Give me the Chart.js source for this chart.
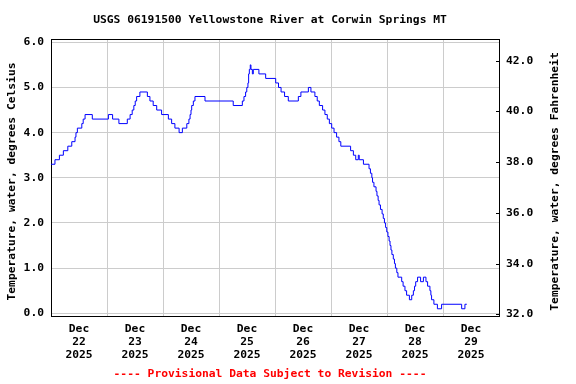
<!DOCTYPE html>
<html>
<head>
<meta charset="utf-8">
<script src="https://cdn.jsdelivr.net/npm/chart.js@4.4.1/dist/chart.umd.min.js"></script>
<style>
  body { margin: 0; background: #fff; }
  canvas { display: block; }
</style>
</head>
<body>
<canvas id="tempChart" width="576" height="384"></canvas>
<script>
// Texts
const titleText = 'USGS 06191500 Yellowstone River at Corwin Springs MT';
const footerText = '---- Provisional Data Subject to Revision ----';
const leftTitle = 'Temperature, water, degrees Celsius';
const rightTitle = 'Temperature, water, degrees Fahrenheit';

// Day labels (x axis, one per day starting Dec 22 2025)
const dayMonth = 'Dec';
const dayNumbers = ['22', '23', '24', '25', '26', '27', '28', '29'];
const dayYear = '2025';

// Hours since Dec 22 00:00 where the reading changes, and the reading (deg C)
const hours = [
    0, 1.7, 3.6, 5.3, 7.2, 8.9, 10.3, 10.7, 11.3, 13.2, 13.8, 14.6, 17.7,
    24.6, 26.4, 29.1, 32.7, 33.9, 34.8, 35.5, 36.1, 36.7, 38.1, 41.3, 42.4,
    43.8, 45.3, 47.4, 50.3, 51.7, 53.1, 54.9, 56.3, 58.2, 59.1, 59.6, 60.0,
    60.3, 61.0, 61.7, 66.0, 78.1, 82.0, 82.7, 83.4, 83.9, 84.4, 84.7, 85.0,
    85.4, 85.7, 86.3, 86.7, 89.1, 92.0, 96.3, 97.5, 98.6, 100.1, 101.7, 106.0,
    107.1, 110.3, 111.4, 113.1, 114.1, 115.0, 116.4, 117.4, 118.4, 119.3, 120.3,
    121.3, 122.4, 123.4, 124.2, 128.4, 129.6, 130.6, 131.7, 132.1, 133.9, 136.3,
    136.9, 137.5, 137.8, 138.4, 139.3, 139.7, 140.2, 140.6, 141.2, 141.9, 142.4,
    142.9, 143.4, 143.9, 144.4, 144.9, 145.3, 145.7, 146.1, 146.7, 147.2, 147.6,
    148.2, 148.7, 150.3, 150.9, 151.7, 152.4, 153.6, 154.6, 155.3, 155.8, 156.3,
    157.1, 158.4, 159.6, 160.7, 161.4, 162.4, 162.8, 163.1, 164.1, 165.6, 167.4,
    176.0, 177.4, 178.2
];
const tempC = [
    3.3, 3.4, 3.5, 3.6, 3.7, 3.8, 3.9, 4.0, 4.1, 4.2, 4.3, 4.4, 4.3,
    4.4, 4.3, 4.2, 4.3, 4.4, 4.5, 4.6, 4.7, 4.8, 4.9, 4.8, 4.7,
    4.6, 4.5, 4.4, 4.3, 4.2, 4.1, 4.0, 4.1, 4.2, 4.3, 4.4, 4.5,
    4.6, 4.7, 4.8, 4.7, 4.6, 4.7, 4.8, 4.9, 5.0, 5.1, 5.3, 5.4,
    5.5, 5.4, 5.3, 5.4, 5.3, 5.2, 5.1, 5.0, 4.9, 4.8, 4.7, 4.8,
    4.9, 5.0, 4.9, 4.8, 4.7, 4.6, 4.5, 4.4, 4.3, 4.2, 4.1,
    4.0, 3.9, 3.8, 3.7, 3.6, 3.5, 3.4, 3.5, 3.4, 3.3, 3.2,
    3.1, 3.0, 2.9, 2.8, 2.7, 2.6, 2.5, 2.4, 2.3, 2.2, 2.1,
    2.0, 1.9, 1.8, 1.7, 1.6, 1.5, 1.4, 1.3, 1.2, 1.1, 1.0,
    0.9, 0.8, 0.7, 0.6, 0.5, 0.4, 0.3, 0.4, 0.5, 0.6, 0.7,
    0.8, 0.7, 0.8, 0.7, 0.6, 0.5, 0.4, 0.3, 0.2, 0.1, 0.2,
    0.1, 0.2, 0.2
];

// Axis ranges
const xMin = 0, xMax = 192;
const cMin = -0.06, cMax = 6.073;
const fMin = 31.94, fMax = 42.85;

const FONT = '"DejaVu Sans Mono", "Liberation Mono", monospace';
const GRID = '#cccccc';

Chart.defaults.color = '#000';
Chart.defaults.font.family = FONT;
Chart.defaults.font.weight = 'bold';
Chart.defaults.font.size = 11.3;

// Frame, right-axis tick marks and all free text
const usgsDecor = {
    id: 'usgsDecor',
    beforeDatasetsDraw(chart) {
        const { ctx, chartArea: a } = chart;
        ctx.save();
        ctx.strokeStyle = '#000';
        ctx.lineWidth = 1;
        ctx.strokeRect(Math.round(a.left) + 0.5, Math.round(a.top) + 0.5,
            Math.round(a.right - a.left), Math.round(a.bottom - a.top));
        const y2 = chart.scales.y2;
        ctx.beginPath();
        y2.ticks.forEach(t => {
            const py = Math.round(y2.getPixelForValue(t.value)) + 0.5;
            ctx.moveTo(a.right - 3, py);
            ctx.lineTo(a.right + 1, py);
        });
        ctx.stroke();
        ctx.restore();
    },
    afterDraw(chart) {
        const { ctx } = chart;
        ctx.save();
        ctx.font = 'bold 11.3px ' + FONT;
        ctx.textAlign = 'center';
        ctx.textBaseline = 'middle';
        ctx.fillStyle = '#000';
        ctx.fillText(titleText, 270, 20);
        ctx.fillStyle = '#ff0000';
        ctx.fillText(footerText, 270, 374);
        ctx.fillStyle = '#000';
        ctx.save();
        ctx.translate(12, 181.5);
        ctx.rotate(-Math.PI / 2);
        ctx.fillText(leftTitle, 0, 0);
        ctx.restore();
        ctx.save();
        ctx.translate(555, 181.5);
        ctx.rotate(-Math.PI / 2);
        ctx.fillText(rightTitle, 0, 0);
        ctx.restore();
        ctx.restore();
    }
};

const points = hours.map((h, i) => ({ x: h, y: tempC[i] }));

new Chart(document.getElementById('tempChart'), {
    type: 'line',
    data: {
        datasets: [{
            data: points,
            borderColor: '#0000ff',
            borderWidth: 1,
            pointRadius: 0,
            stepped: true,
            fill: false
        }]
    },
    options: {
        responsive: false,
        animation: false,
        devicePixelRatio: 1,
        layout: { padding: { top: 39, left: 0, right: 0, bottom: 0 } },
        plugins: {
            legend: { display: false },
            tooltip: { enabled: false }
        },
        scales: {
            x: {
                type: 'linear',
                min: xMin,
                max: xMax,
                afterBuildTicks: (scale) => {
                    const ticks = [];
                    for (let v = xMin; v <= xMax; v += 12) ticks.push({ value: v });
                    scale.ticks = ticks;
                },
                afterFit: (scale) => { scale.height = 68; },
                border: { display: false },
                grid: {
                    drawTicks: false,
                    color: (ctx) => (ctx.tick && ctx.tick.value % 24 === 0) ? GRID : 'rgba(0,0,0,0)'
                },
                ticks: {
                    autoSkip: false,
                    maxRotation: 0,
                    padding: 7,
                    font: { lineHeight: 1.14 },
                    callback: (v) => {
                        if (v % 24 !== 12) return '';
                        return [dayMonth, dayNumbers[Math.floor(v / 24)], dayYear];
                    }
                }
            },
            y: {
                position: 'left',
                min: cMin,
                max: cMax,
                afterFit: (scale) => { scale.width = 51; },
                border: { display: false },
                grid: { color: GRID, drawTicks: false },
                ticks: {
                    stepSize: 1,
                    includeBounds: false,
                    padding: 7,
                    callback: (v) => v.toFixed(1)
                }
            },
            y2: {
                position: 'right',
                min: fMin,
                max: fMax,
                afterFit: (scale) => { scale.width = 77; },
                border: { display: false },
                grid: { drawOnChartArea: false, drawTicks: false },
                ticks: {
                    stepSize: 2,
                    includeBounds: false,
                    padding: 7,
                    callback: (v) => v.toFixed(1)
                }
            }
        }
    },
    plugins: [usgsDecor]
});
</script>
</body>
</html>
